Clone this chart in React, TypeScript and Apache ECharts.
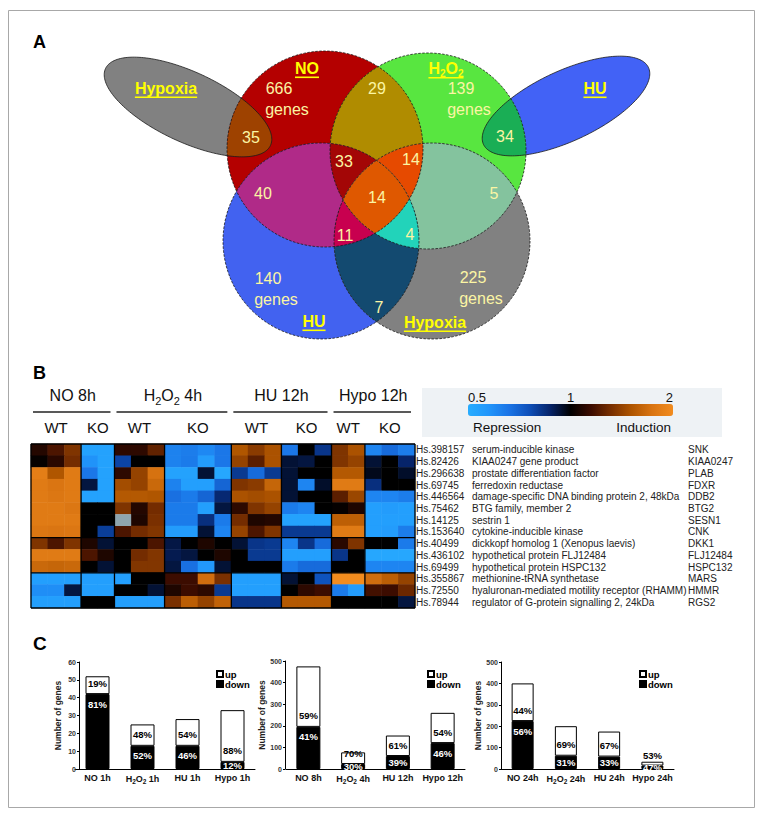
import React, { useEffect, useRef } from "react";
import * as echarts from "echarts";

const FF = '"Liberation Sans", Arial, Helvetica, sans-serif';

// ================= Panel A data =================
const vennSetNames = ["NO", "H2O2", "HU", "Hypoxia"];
const vennSetTotals = [666, 139, 140, 225];
const vennRegionNames = [
  "NO+H2O2", "NO+Hypoxia", "H2O2+HU", "NO+H2O2+HU", "NO+H2O2+Hypoxia",
  "NO+H2O2+HU+Hypoxia", "NO+HU", "H2O2+Hypoxia", "NO+HU+Hypoxia", "H2O2+HU+Hypoxia", "HU+Hypoxia",
];
const vennRegionCounts = [29, 35, 34, 33, 14, 14, 40, 5, 11, 4, 7];

// ================= Panel B data =================
const conditionGroups = ["NO 8h", "H2O2 4h", "HU 12h", "Hypo 12h"];
const genotypeLabels = ["WT", "KO", "WT", "KO", "WT", "KO", "WT", "KO"];
const replicatesPerGenotype = [3, 2, 3, 4, 3, 3, 2, 3];
const geneIds = [
  "Hs.398157", "Hs.82426", "Hs.296638", "Hs.69745", "Hs.446564", "Hs.75462", "Hs.14125",
  "Hs.153640", "Hs.40499", "Hs.436102", "Hs.69499", "Hs.355867", "Hs.72550", "Hs.78944",
];
const geneDescriptions = [
  "serum-inducible kinase", "KIAA0247 gene product", "prostate differentiation factor",
  "ferredoxin reductase", "damage-specific DNA binding protein 2, 48kDa", "BTG family, member 2",
  "sestrin 1", "cytokine-inducible kinase", "dickkopf homolog 1 (Xenopus laevis)",
  "hypothetical protein FLJ12484", "hypothetical protein HSPC132", "methionine-tRNA synthetase",
  "hyaluronan-mediated motility receptor (RHAMM)", "regulator of G-protein signalling 2, 24kDa",
];
const geneSymbols = [
  "SNK", "KIAA0247", "PLAB", "FDXR", "DDB2", "BTG2", "SESN1", "CNK", "DKK1", "FLJ12484",
  "HSPC132", "MARS", "HMMR", "RGS2",
];
// log2 expression ratios, one row per gene, 23 arrays (columns)
const logRatios: (number | null)[][] = [
  [0.12, 0.25, 0.42, -0.9, -0.9, 0.15, 0.15, 0.32, -0.68, -0.65, -0.72, -0.62, 0.6, 0.46, 0.58, -0.62, 0, -0.28, 0.42, 0.58, -0.7, -0.55, -0.65],
  [0.02, 0.14, 0.38, -0.78, -0.9, -0.35, 0, 0, -0.68, -0.64, -0.85, -0.62, 0.5, 0.3, 0.58, -0.1, -0.12, 0, 0.42, 0.5, -0.1, 0, -0.2],
  [0.88, 0.6, 0.85, -0.62, -0.9, 0.15, 0.5, 0.78, -0.9, -0.9, -0.1, -0.95, -0.3, -0.55, -0.3, -0.1, 0, 0, 0.62, 0.62, -0.05, 0, -0.08],
  [0.85, 0.8, 0.85, -0.12, -0.9, 0.55, 0.5, 0.72, -0.68, -0.88, -0.88, -0.52, 0.42, 0.46, 0.7, -0.1, -0.7, -0.08, 0.85, 0.85, -0.25, 0, 0],
  [0.85, 0.82, 0.85, -0.9, -0.9, 0.62, 0.62, 0.6, -0.58, -0.64, -0.52, -0.22, 0.58, 0.55, 0.58, -0.1, 0, 0, 0.3, 0.52, -0.7, -0.7, -0.65],
  [0.85, 0.85, 0.82, 0, 0, 0.42, 0.12, 0.38, -0.64, -0.64, -0.88, -0.12, 0.15, 0.42, 0.5, -0.64, -0.7, 0, 0.02, 0.1, -0.88, -0.85, -0.88],
  [0.85, 0.85, 0.85, 0, 0, null, 0.1, 0.4, -0.64, -0.64, -0.25, -0.64, 0.38, 0.1, 0.12, -0.9, -0.9, -0.9, 0.66, 0.66, -0.88, -0.88, -0.88],
  [0.82, 0.8, 0.82, 0, -0.32, 0.25, 0.38, 0.43, -0.85, -0.85, -0.1, -0.7, 0.5, 0.25, 0.42, -0.3, -0.3, -0.3, 0.85, 0.85, -0.88, -0.85, -0.65],
  [0.42, 0.25, 0.42, 0.1, -0.1, 0, 0, 0.25, -0.13, 0, 0.1, 0, -0.1, -0.28, -0.3, -0.7, -0.28, -0.55, 0.14, 0.42, 0, 0, -0.64],
  [0.85, 0.85, 0.85, 0.25, 0.1, 0, 0.38, 0.43, -0.15, -0.12, 0, 0.1, 0, -0.3, -0.3, -0.88, -0.88, -0.88, -0.28, 0, -0.95, -0.95, -0.95],
  [0.72, 0.7, 0.72, 0, -0.1, 0, 0.43, 0.43, -0.12, -0.58, -0.82, -0.1, 0, 0, 0, -0.64, -0.55, -0.55, 0, 0, -0.7, -0.7, -0.7],
  [-0.88, -0.88, -0.88, -0.88, -0.88, -0.88, 0, 0, 0.2, 0.2, 0.75, 0.4, -0.88, -0.88, -0.88, -0.1, 0, -0.42, 1, 1, 0.75, 0.65, 0.5],
  [-0.75, -0.75, -0.12, -0.88, -0.88, 0, 0, -0.1, 0.1, 0.2, 0.15, -0.3, -0.88, -0.88, -0.88, 0, 0.15, 0.2, -0.64, -0.85, 0.22, 0.2, 0.35],
  [-0.88, -0.88, -0.88, 0, 0, -0.88, -0.88, -0.88, 0.4, 0.65, 0.5, 0.68, -0.28, -0.28, -0.28, 0.62, 0.62, 0.62, 0, 0, 0, 0, -0.12],
];
const clusterBreaksAfterRow = [8, 11];
const colorbarTicks = [0.5, 1, 2];
const colorbarEnds = ["Repression", "Induction"];

// ================= Panel C data =================
const c1Categories = ["NO 1h", "H2O2 1h", "HU 1h", "Hypo 1h"];
const c1Up = [10, 12, 15, 29];
const c1Down = [42, 13, 13, 4];
const c1UpPct = [19, 48, 54, 88];
const c1DownPct = [81, 52, 46, 12];

const c2Categories = ["NO 8h", "H2O2 4h", "HU 12h", "Hypo 12h"];
const c2Up = [280, 54, 95, 140];
const c2Down = [195, 23, 60, 120];
const c2UpPct = [59, 70, 61, 54];
const c2DownPct = [41, 30, 39, 46];

const c3Categories = ["NO 24h", "H2O2 24h", "HU 24h", "Hypo 24h"];
const c3Up = [176, 138, 117, 18];
const c3Down = [224, 62, 58, 16];
const c3UpPct = [44, 69, 67, 53];
const c3DownPct = [56, 31, 33, 47];

// ================= helpers =================
type Pt = number[];
function ellipsePts(cx: number, cy: number, rx: number, ry: number, deg: number, n = 180): Pt[] {
  const t = (deg * Math.PI) / 180;
  const pts: Pt[] = [];
  for (let i = 0; i < n; i++) {
    const a = (2 * Math.PI * i) / n;
    const x = rx * Math.cos(a);
    const y = ry * Math.sin(a);
    pts.push([cx + x * Math.cos(t) - y * Math.sin(t), cy + x * Math.sin(t) + y * Math.cos(t)]);
  }
  return pts;
}
function cross(a: Pt, b: Pt, p: Pt) {
  return (b[0] - a[0]) * (p[1] - a[1]) - (b[1] - a[1]) * (p[0] - a[0]);
}
function clipPoly(subject: Pt[], clipper: Pt[]): Pt[] {
  let out = subject;
  for (let i = 0; i < clipper.length; i++) {
    const a = clipper[i];
    const b = clipper[(i + 1) % clipper.length];
    const input = out;
    out = [];
    if (!input.length) break;
    for (let j = 0; j < input.length; j++) {
      const cur = input[j];
      const prev = input[(j + input.length - 1) % input.length];
      const dc = cross(a, b, cur);
      const dp = cross(a, b, prev);
      const inter = () => {
        const t = dp / (dp - dc);
        return [prev[0] + t * (cur[0] - prev[0]), prev[1] + t * (cur[1] - prev[1])];
      };
      if (dc >= 0) {
        if (dp < 0) out.push(inter());
        out.push(cur);
      } else if (dp >= 0) {
        out.push(inter());
      }
    }
  }
  return out;
}
function intersectAll(polys: Pt[][]): Pt[] {
  let r = polys[0];
  for (let i = 1; i < polys.length; i++) r = clipPoly(r, polys[i]);
  return r;
}
let measureCtx: CanvasRenderingContext2D | null = null;
function measure(text: string, size: number, weight = "normal") {
  if (!measureCtx) measureCtx = document.createElement("canvas").getContext("2d");
  if (!measureCtx) return text.length * size * 0.55;
  measureCtx.font = `${weight} ${size}px ${FF}`;
  return measureCtx.measureText(text).width;
}
function T(text: string, x: number, y: number, size: number, o: any = {}) {
  const weight = o.weight || "normal";
  const align = o.align || "center";
  const va = o.vAlign || "middle";
  const style: any = {
    text, x: 0, y: 0,
    fill: o.color || "#000",
    fontSize: size, fontWeight: weight, fontFamily: FF,
    font: `${weight} ${size}px ${FF}`,
    align, verticalAlign: va, textAlign: align, textVerticalAlign: va,
  };
  if (o.rich) style.rich = o.rich;
  return { type: "text", x, y, z: o.z ?? 20, silent: true, style };
}
function subRich(size: number, weight: string, color: string, pad: number) {
  return {
    s: { fontSize: size, fontWeight: weight, fontFamily: FF, fill: color, color, padding: [pad, 0, 0, 0] },
  };
}

// ================= option =================
function buildOption() {
  const g: any[] = [];
  // frame
  g.push({ type: "rect", silent: true, shape: { x: 8.5, y: 10.5, width: 746, height: 797 }, style: { fill: "none", stroke: "#a8a8a8", lineWidth: 1 } });
  // panel letters
  g.push(T("A", 33, 42, 18, { weight: "bold", align: "left" }));
  g.push(T("B", 33, 373, 18, { weight: "bold", align: "left" }));
  g.push(T("C", 33, 643, 19, { weight: "bold", align: "left" }));

  // ---- Venn ----
  const E = {
    hypL: ellipsePts(188, 107, 91, 35, 25),
    huR: ellipsePts(566, 106, 91, 35, -25),
    no: ellipsePts(325, 149, 98, 98, 0),
    h2o2: ellipsePts(428, 151, 98, 98, 0),
    hu: ellipsePts(321, 241, 98, 98, 0),
    hyp: ellipsePts(432, 241, 98, 98, 0),
  };
  const poly = (points: Pt[], fill: string) => ({ type: "polygon", silent: true, z: 5, shape: { points }, style: { fill, stroke: "none" } });
  g.push(poly(E.hypL, "#818181"));
  g.push(poly(E.huR, "#4262f6"));
  g.push(poly(E.no, "#b40000"));
  g.push(poly(E.h2o2, "#58e640"));
  g.push(poly(E.hu, "#4262f0"));
  g.push(poly(E.hyp, "#818181"));
  const layers: [Pt[][], string][] = [
    [[E.no, E.hypL], "#9e4200"],
    [[E.h2o2, E.huR], "#1aae55"],
    [[E.no, E.h2o2], "#b08c00"],
    [[E.no, E.hu], "#b02a88"],
    [[E.h2o2, E.hyp], "#84c39e"],
    [[E.hu, E.hyp], "#134a70"],
    [[E.no, E.h2o2, E.hu], "#a30606"],
    [[E.no, E.h2o2, E.hyp], "#e64a00"],
    [[E.no, E.hu, E.hyp], "#c8004f"],
    [[E.h2o2, E.hu, E.hyp], "#22d3ba"],
    [[E.no, E.h2o2, E.hu, E.hyp], "#df5800"],
  ];
  layers.forEach(([ps, c]) => {
    const p = intersectAll(ps);
    if (p.length > 2) g.push(poly(p, c));
  });
  [E.hypL, E.huR].forEach((p) =>
    g.push({ type: "polygon", silent: true, z: 6, shape: { points: p }, style: { fill: "none", stroke: "#1a1a1a", lineWidth: 0.8 } })
  );
  [E.no, E.h2o2, E.hu, E.hyp].forEach((p) =>
    g.push({ type: "polygon", silent: true, z: 6, shape: { points: p }, style: { fill: "none", stroke: "#1a1a1a", lineWidth: 0.8, lineDash: [2.5, 1.5] } })
  );
  const YEL = "#ffff00";
  const PALE = "#fbf5a4";
  const setLabel = (name: string, x: number, y: number) => {
    if (name === "H2O2") {
      g.push(T("H{s|2}O{s|2}", x, y, 16, { weight: "bold", color: YEL, rich: subRich(10, "bold", YEL, 11) }));
      const w = measure("HO", 16, "bold") + 2 * measure("2", 10, "bold");
      g.push({ type: "rect", silent: true, z: 20, shape: { x: x - w / 2, y: y + 9, width: w, height: 1.6 }, style: { fill: YEL } });
    } else {
      g.push(T(name, x, y, 16, { weight: "bold", color: YEL }));
      const w = measure(name, 16, "bold");
      g.push({ type: "rect", silent: true, z: 20, shape: { x: x - w / 2, y: y + 8.5, width: w, height: 1.6 }, style: { fill: YEL } });
    }
  };
  // set names (Hypoxia and HU appear twice: satellite ellipse + circle)
  setLabel(vennSetNames[3], 166, 88);
  setLabel(vennSetNames[0], 307, 68);
  setLabel(vennSetNames[1], 446, 68);
  setLabel(vennSetNames[2], 595, 88);
  setLabel(vennSetNames[2], 314, 321);
  setLabel(vennSetNames[3], 435, 322);
  // totals
  const totalPos = [[279, 88], [461, 88], [268, 278], [473, 277]];
  vennSetTotals.forEach((v, i) => {
    g.push(T(String(v), totalPos[i][0], totalPos[i][1], 16, { color: PALE }));
    g.push(T("genes", totalPos[i][0] + 8, totalPos[i][1] + 21, 16, { color: PALE }));
  });
  const regionPos = [[377, 88], [251, 137], [505, 136], [344, 161], [411, 159], [377, 197], [263, 193], [494, 193], [345, 235], [410, 234], [379, 307]];
  vennRegionCounts.forEach((v, i) => g.push(T(String(v), regionPos[i][0], regionPos[i][1], 16, { color: PALE })));

  // ---- Heatmap header ----
  const HM = { left: 31, top: 444, width: 384, height: 164 };
  const nCols = replicatesPerGenotype.reduce((a, b) => a + b, 0);
  const colW = HM.width / nCols;
  let start = 0;
  const subStarts: number[] = [];
  replicatesPerGenotype.forEach((n) => { subStarts.push(start); start += n; });
  genotypeLabels.forEach((lab, i) => {
    const cx = HM.left + (subStarts[i] + replicatesPerGenotype[i] / 2) * colW;
    g.push(T(lab, cx, 427, 15, { color: "#111" }));
  });
  conditionGroups.forEach((name, gi) => {
    const s = subStarts[gi * 2];
    const e = subStarts[gi * 2 + 1] + replicatesPerGenotype[gi * 2 + 1];
    const x0 = HM.left + s * colW;
    const x1 = HM.left + e * colW;
    const cx = (x0 + x1) / 2;
    if (name.startsWith("H2O2")) {
      g.push(T(name.replace("H2O2", "H{s|2}O{s|2}"), cx, 395, 16, { color: "#111", rich: subRich(11, "normal", "#111", 11) }));
    } else {
      g.push(T(name, cx, 395, 16, { color: "#111" }));
    }
    g.push({ type: "line", silent: true, shape: { x1: x0 + 2, y1: 412, x2: x1 - 4, y2: 412 }, style: { stroke: "#222", lineWidth: 1.4 } });
  });
  // ---- colorbar box & labels ----
  const CB = { left: 468, top: 404, len: 205, thick: 12 };
  g.push({ type: "rect", silent: true, z: 1, shape: { x: 422, y: 388, width: 300, height: 49 }, style: { fill: "#eef2f5" } });
  colorbarTicks.forEach((v, i) => {
    const x = CB.left + ((Math.log2(v) + 1) / 2) * CB.len;
    const align = i === 0 ? "left" : i === colorbarTicks.length - 1 ? "right" : "center";
    g.push(T(String(v), x, 397, 13, { color: "#111", align }));
  });
  g.push(T(colorbarEnds[0], 473, 427, 13.5, { color: "#111", align: "left" }));
  g.push(T(colorbarEnds[1], 671, 427, 13.5, { color: "#111", align: "right" }));

  // ---- heatmap data ----
  const heatData: any[] = [];
  const missing: number[][] = [];
  logRatios.forEach((row, r) => row.forEach((v, c) => {
    if (v === null) missing.push([c, r]);
    else heatData.push([c, r, v]);
  }));
  const seps: number[][] = [];
  let acc = 0;
  replicatesPerGenotype.forEach((n, i) => { if (i > 0) seps.push([acc, 0, acc, geneIds.length]); acc += n; });
  clusterBreaksAfterRow.forEach((r) => seps.push([0, r, nCols, r]));
  seps.push([0, 0, nCols, 0], [0, geneIds.length, nCols, geneIds.length], [0, 0, 0, geneIds.length], [nCols, 0, nCols, geneIds.length]);

  // ---- bar charts ----
  const barGrids = [
    { left: 75, top: 662, width: 180, height: 107, max: 60, interval: 10, offset: -4, barW: 24, nameGap: 17 },
    { left: 286, top: 661, width: 179, height: 108, max: 500, interval: 100, offset: 1, barW: 24, nameGap: 19 },
    { left: 501, top: 662, width: 173, height: 107, max: 500, interval: 100, offset: 0, barW: 22, nameGap: 19 },
  ];
  const barCats = [c1Categories, c2Categories, c3Categories];
  const ups = [c1Up, c2Up, c3Up];
  const downs = [c1Down, c2Down, c3Down];
  const upPcts = [c1UpPct, c2UpPct, c3UpPct];
  const downPcts = [c1DownPct, c2DownPct, c3DownPct];

  const grid: any[] = [
    { left: HM.left, top: HM.top, width: HM.width, height: HM.height, containLabel: false },
    { left: HM.left, top: HM.top, width: HM.width, height: HM.height, containLabel: false },
    ...barGrids.map((b) => ({ left: b.left, top: b.top, width: b.width, height: b.height, containLabel: false })),
  ];
  const xAxis: any[] = [
    { type: "category", gridIndex: 0, data: Array.from({ length: nCols }, (_, i) => String(i)), show: false },
    { type: "value", gridIndex: 1, min: 0, max: nCols, show: false },
    ...barGrids.map((b, i) => ({
      type: "category", gridIndex: i + 2, data: barCats[i],
      axisLine: { lineStyle: { color: "#000", width: 1 } },
      axisTick: { show: false },
      axisLabel: {
        color: "#111", fontSize: 9, fontWeight: "bold", fontFamily: FF, margin: 4, interval: 0,
        formatter: (v: string) => v.replace("H2O2", "H{s|2}O{s|2}"),
        rich: { s: { fontSize: 6.5, fontWeight: "bold", fontFamily: FF, color: "#111", padding: [5, 0, 0, 0] } },
      },
    })),
  ];
  const yAxis: any[] = [
    {
      type: "category", gridIndex: 0, data: geneSymbols, inverse: true, position: "right",
      axisLine: { show: false }, axisTick: { show: false },
      axisLabel: {
        margin: 1, interval: 0, color: "#222", fontSize: 10, fontFamily: FF,
        formatter: (_v: string, idx: number) => `{id|${geneIds[idx]}}{d|${geneDescriptions[idx]}}{s|${geneSymbols[idx]}}`,
        rich: {
          id: { width: 56, fontSize: 10, fontFamily: FF, color: "#222" },
          d: { width: 216, fontSize: 10, fontFamily: FF, color: "#222" },
          s: { fontSize: 10, fontFamily: FF, color: "#222" },
        },
      },
    },
    { type: "value", gridIndex: 1, min: 0, max: geneIds.length, inverse: true, show: false },
    ...barGrids.map((b, i) => ({
      type: "value", gridIndex: i + 2, min: 0, max: b.max, interval: b.interval, offset: b.offset,
      name: "Number of genes", nameLocation: "middle", nameGap: b.nameGap,
      nameTextStyle: { fontSize: 8.5, fontWeight: "bold", fontFamily: FF, color: "#222" },
      axisLine: { show: true, lineStyle: { color: "#000", width: 1 } },
      axisTick: { show: true, length: 2, lineStyle: { color: "#000" } },
      splitLine: { show: false },
      axisLabel: { fontSize: 7, fontWeight: "bold", fontFamily: FF, color: "#333", margin: 3 },
    })),
  ];

  const series: any[] = [
    {
      type: "heatmap", xAxisIndex: 0, yAxisIndex: 0, data: heatData, progressive: 0,
      emphasis: { disabled: true }, itemStyle: { borderWidth: 0 },
    },
    {
      type: "custom", xAxisIndex: 1, yAxisIndex: 1, data: missing, silent: true, z: 3,
      renderItem: (_p: any, api: any) => {
        const p0 = api.coord([api.value(0), api.value(1)]);
        const p1 = api.coord([api.value(0) + 1, api.value(1) + 1]);
        return { type: "rect", shape: { x: p0[0], y: p0[1], width: p1[0] - p0[0], height: p1[1] - p0[1] }, style: { fill: "#8fa5ae" } };
      },
    },
    {
      type: "custom", xAxisIndex: 1, yAxisIndex: 1, data: seps, silent: true, z: 4,
      encode: { x: [0, 2], y: [1, 3] },
      renderItem: (_p: any, api: any) => {
        const a = api.coord([api.value(0), api.value(1)]);
        const b = api.coord([api.value(2), api.value(3)]);
        return { type: "line", shape: { x1: a[0], y1: a[1], x2: b[0], y2: b[1] }, style: { stroke: "#000", lineWidth: 1.3 } };
      },
    },
  ];
  barGrids.forEach((b, i) => {
    const lbl = { fontSize: 9.5, fontWeight: "bold", fontFamily: FF };
    const pxPerUnit = b.height / b.max;
    series.push({
      name: "down", type: "bar", stack: "s" + i, xAxisIndex: i + 2, yAxisIndex: i + 2, barWidth: b.barW,
      data: downs[i].map((v) => (v * pxPerUnit < 14 ? { value: v, label: { position: "inside" } } : v)),
      itemStyle: { color: "#000", borderColor: "#000", borderWidth: 1 },
      emphasis: { disabled: true },
      label: { show: true, position: "insideTop", distance: 5, color: "#fff", ...lbl, formatter: (p: any) => downPcts[i][p.dataIndex] + "%" },
    });
    series.push({
      name: "up", type: "bar", stack: "s" + i, xAxisIndex: i + 2, yAxisIndex: i + 2, barWidth: b.barW,
      data: ups[i].map((v) => (v / b.max < 0.06 ? { value: v, label: { position: "top", distance: 1 } } : v)),
      itemStyle: { color: "#fff", borderColor: "#000", borderWidth: 1 },
      emphasis: { disabled: true },
      label: { show: true, position: "insideBottom", distance: 6, color: "#000", ...lbl, formatter: (p: any) => upPcts[i][p.dataIndex] + "%" },
    });
  });

  const legendPos = [[216, 669], [427, 669], [639, 669]];
  const legend = legendPos.map(([l, t]) => ({
    left: l, top: t, orient: "vertical", data: ["up", "down"], icon: "rect",
    itemWidth: 6, itemHeight: 6, itemGap: 0, padding: 0, selectedMode: false,
    textStyle: { fontSize: 9.5, fontWeight: "bold", fontFamily: FF, color: "#000", padding: [0, 0, 0, -3], lineHeight: 9 },
  }));

  return {
    animation: false,
    backgroundColor: "#fff",
    textStyle: { fontFamily: FF },
    grid, xAxis, yAxis, series, legend,
    visualMap: {
      type: "continuous", seriesIndex: 0, min: -1, max: 1, orient: "horizontal",
      left: CB.left, top: CB.top, itemWidth: CB.thick, itemHeight: CB.len, padding: 0,
      calculable: false, hoverLink: false, showLabel: false, text: null,
      inRange: {
        color: ["#27adff", "#2196fb", "#1a74e6", "#0d4fb8", "#06246a", "#000000", "#3c0c00", "#7a3000", "#b05600", "#da7512", "#f28c1e"],
      },
    },
    graphic: { elements: g },
  };
}

export default function App() {
  const ref = useRef<HTMLDivElement>(null);
  useEffect(() => {
    const chart = echarts.init(ref.current as HTMLDivElement, null, { renderer: "svg", width: 763, height: 818 });
    chart.setOption(buildOption() as any);
    return () => chart.dispose();
  }, []);
  return <div ref={ref} style={{ position: "absolute", left: 0, top: 0, width: 763, height: 818 }} />;
}
